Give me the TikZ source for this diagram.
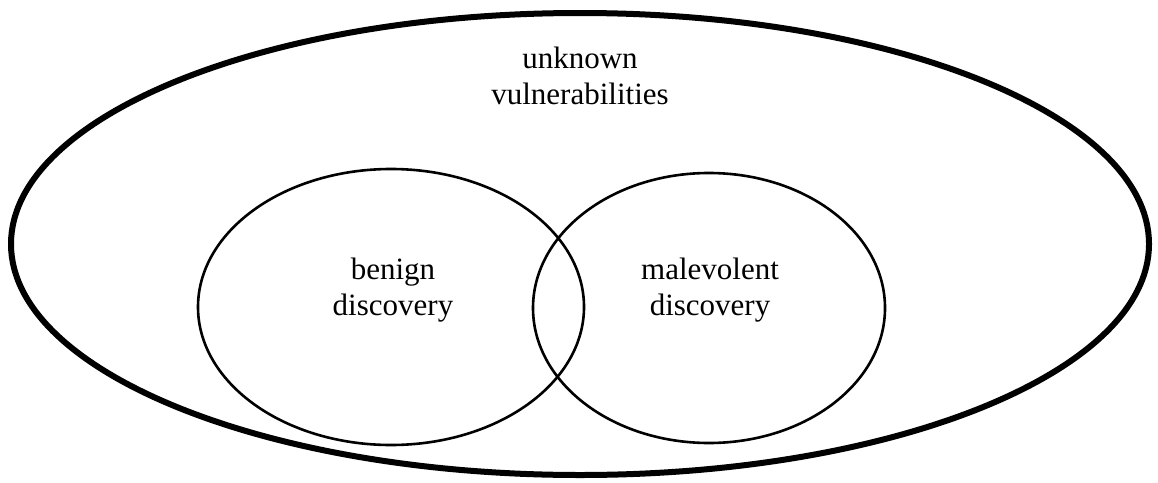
\documentclass[tikz,border=0pt]{standalone}
\usepackage{fontspec}
\setmainfont{Liberation Serif}
\begin{document}
\begin{tikzpicture}[x=1pt,y=-1pt,
	lbl/.style={align=center,font=\fontsize{31}{36}\selectfont,inner sep=0pt}]
	\useasboundingbox (0,0) rectangle (1158,482);
	\coordinate (U) at (580,244);
	\coordinate (B) at (391,307);
	\coordinate (M) at (709,308);
	\node[lbl] (unknown) at (580,76) {unknown\\vulnerabilities};
	\node[lbl] (benign) at (393,290) {benign\\discovery};
	\node[lbl] (malevolent) at (710,290) {malevolent\\discovery};
	\draw[line width=6pt] (U) ellipse [x radius=569,y radius=231];
	\draw[line width=2.6pt] (B) ellipse [x radius=193,y radius=138] (M) ellipse [x radius=176,y radius=135];
\end{tikzpicture}
\end{document}
